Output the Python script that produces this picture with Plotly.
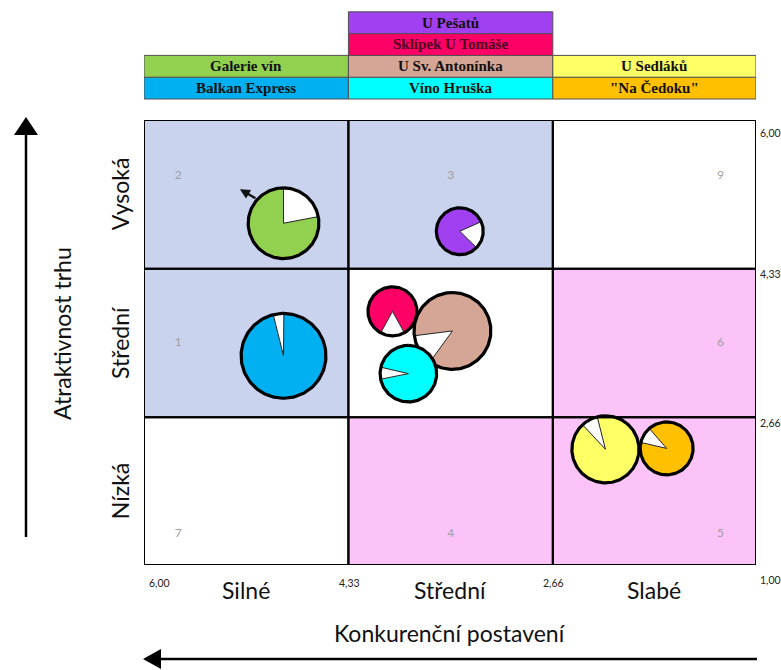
import numpy as np
import plotly.graph_objects as go

# ---------------- data ----------------
names = ["Galerie vín", "U Pešatů", "Balkan Express", "Sklípek U Tomáše",
         "U Sv. Antonínka", "Víno Hruška", "U Sedláků", "\"Na Čedoku\""]
comp_position = [4.86, 3.42, 4.86, 3.97, 3.48, 3.84, 2.23, 1.73]      # x: Konkurenční postavení
market_attract = [4.84, 4.75, 3.35, 3.85, 3.63, 3.15, 2.30, 2.31]     # y: Atraktivnost trhu
market_size = [50, 22, 72, 24, 59, 32, 45, 28]                        # bubble size
market_share = [0.78, 0.81, 0.96, 0.84, 0.87, 0.93, 0.92, 0.90]       # coloured share of pie

x_bounds = [6.00, 4.33, 2.66, 1.00]
y_bounds = [1.00, 2.66, 4.33, 6.00]
x_tick_text = ["6,00", "4,33", "2,66"]          # bottom labels (the corner 1,00 is shared with y)
y_tick_text = ["1,00", "2,66", "4,33", "6,00"]  # right-hand labels
x_categories = ["Silné", "Střední", "Slabé"]
y_categories = ["Nízká", "Střední", "Vysoká"]
cell_numbers = [[7, 4, 5], [1, 8, 6], [2, 3, 9]]   # rows bottom->top, cols left->right

# legend table: columns (left->right), each listed bottom->top
legend_columns = [
    ["Balkan Express", "Galerie vín"],
    ["Víno Hruška", "U Sv. Antonínka", "Sklípek U Tomáše", "U Pešatů"],
    ["\"Na Čedoku\"", "U Sedláků"],
]

# ---------------- styles ----------------
colors = ["#92D050", "#A040F0", "#00B0F0", "#FF0066", "#D5A595", "#00FFFF", "#FFFF66", "#FFC000"]
slice_start = [0, 66, 346, 151, 216, 258, 317, 283]   # rotation of white slice (deg, clockwise from top)
color_of = dict(zip(names, colors))
BLUE_CELL, PINK_CELL, WHITE_CELL = "#C9D3EE", "#FBC3F8", "#FFFFFF"
cell_colors = [[WHITE_CELL, PINK_CELL, PINK_CELL],
               [BLUE_CELL, WHITE_CELL, PINK_CELL],
               [BLUE_CELL, BLUE_CELL, WHITE_CELL]]
SANS = "Lato, 'Open Sans', sans-serif"
SERIF = "'Liberation Serif', 'DejaVu Serif', serif"
BIG = 23

W, H = 781, 670
ML, MR, MT, MB = 144, 25, 120, 105
PW, PH = W - ML - MR, H - MT - MB
ppu_x = PW / (x_bounds[0] - x_bounds[-1])
ppu_y = PH / (y_bounds[-1] - y_bounds[0])


def py2paper(py):
    return (H - MB - py) / PH


def px2paper(px):
    return (px - ML) / PW


fig = go.Figure()

# cell numbers (drawn first, so pies cover them)
num_dx = [0.28, None, 0.29]
num_dy = [0.35, None, 0.63]
nx, ny, nt = [], [], []
for r in range(3):
    for c in range(3):
        lo_x, hi_x = x_bounds[c], x_bounds[c + 1]
        lo_y, hi_y = y_bounds[r], y_bounds[r + 1]
        xx = (lo_x + hi_x) / 2 if c == 1 else (lo_x - num_dx[0] if c == 0 else hi_x + num_dx[2])
        yy = (lo_y + hi_y) / 2 if r == 1 else (lo_y + num_dy[0] if r == 0 else hi_y - num_dy[2])
        nx.append(xx); ny.append(yy); nt.append(str(cell_numbers[r][c]))
fig.add_trace(go.Scatter(x=nx, y=ny, text=nt, mode="text",
                         textfont=dict(family=SANS, size=12, color="#A0A0A0"),
                         hoverinfo="skip", showlegend=False))


def arc_points(cx, cy, r_px, a0, a1, n=90):
    th = np.radians(np.linspace(a0, a1, n))
    return cx - r_px * np.sin(th) / ppu_x, cy + r_px * np.cos(th) / ppu_y


for i, name in enumerate(names):
    cx, cy = comp_position[i], market_attract[i]
    r_px = 10 * np.sqrt(market_size[i]) / 2
    white_deg = (1 - market_share[i]) * 360
    ws = slice_start[i]
    # coloured slice
    ax_, ay_ = arc_points(cx, cy, r_px, ws + white_deg, ws + 360)
    fig.add_trace(go.Scatter(x=np.r_[cx, ax_, cx], y=np.r_[cy, ay_, cy], mode="lines",
                             fill="toself", fillcolor=colors[i], line=dict(width=0),
                             name=name, hoverinfo="name", showlegend=False))
    # white slice
    bx, by = arc_points(cx, cy, r_px, ws, ws + white_deg, 40)
    fig.add_trace(go.Scatter(x=np.r_[cx, bx, cx], y=np.r_[cy, by, cy], mode="lines",
                             fill="toself", fillcolor="#FFFFFF", line=dict(width=1, color="#222"),
                             hoverinfo="skip", showlegend=False))
    # outline
    ox, oy = arc_points(cx, cy, r_px, 0, 360, 180)
    fig.add_trace(go.Scatter(x=ox, y=oy, mode="lines", line=dict(width=3.2, color="#000"),
                             hoverinfo="skip", showlegend=False))

shapes = []
# cell backgrounds and borders
for r in range(3):
    for c in range(3):
        shapes.append(dict(type="rect", xref="x", yref="y", layer="below",
                           x0=x_bounds[c], x1=x_bounds[c + 1], y0=y_bounds[r], y1=y_bounds[r + 1],
                           fillcolor=cell_colors[r][c], line=dict(width=0)))
for r in range(3):
    for c in range(3):
        shapes.append(dict(type="rect", xref="x", yref="y", layer="above",
                           x0=x_bounds[c], x1=x_bounds[c + 1], y0=y_bounds[r], y1=y_bounds[r + 1],
                           fillcolor="rgba(0,0,0,0)", line=dict(width=2, color="#000")))

annotations = []
# legend table
ROW_BOTTOM_PX, ROW_H_PX = 99, 21.8
for c, col in enumerate(legend_columns):
    for k, nm in enumerate(col):
        y0 = py2paper(ROW_BOTTOM_PX - ROW_H_PX * k)
        y1 = py2paper(ROW_BOTTOM_PX - ROW_H_PX * (k + 1))
        shapes.append(dict(type="rect", xref="x", yref="paper", x0=x_bounds[c], x1=x_bounds[c + 1],
                           y0=y0, y1=y1, fillcolor=color_of[nm], line=dict(width=1, color="#505050")))
        tcol = "#4a0022" if nm == "Sklípek U Tomáše" else "#111111"
        annotations.append(dict(xref="x", yref="paper", x=(x_bounds[c] + x_bounds[c + 1]) / 2,
                                y=(y0 + y1) / 2, text="<b>%s</b>" % nm, showarrow=False,
                                xanchor="center", yanchor="middle",
                                font=dict(family=SERIF, size=15, color=tcol)))

# x tick labels (bottom)
x_anchor = ["left", "center", "center"]
x_shift = [3, 1, 1]
for i, t in enumerate(x_tick_text):
    annotations.append(dict(xref="x", yref="paper", x=x_bounds[i], y=py2paper(575), text=t,
                            showarrow=False, xanchor=x_anchor[i], yanchor="top", xshift=x_shift[i],
                            font=dict(family=SANS, size=10.5, color="#222")))
# y tick labels (right)
y_shift = [-7, 2, 3, -5]
for i, t in enumerate(y_tick_text):
    annotations.append(dict(xref="paper", yref="y", x=1, y=y_bounds[i], text=t, showarrow=False,
                            xanchor="left", yanchor="top", xshift=2, yshift=y_shift[i],
                            font=dict(family=SANS, size=10.5, color="#222")))
# category labels
for c in range(3):
    annotations.append(dict(xref="x", yref="paper", x=(x_bounds[c] + x_bounds[c + 1]) / 2,
                            y=py2paper(590), text=x_categories[c], showarrow=False,
                            xanchor="center", yanchor="middle",
                            font=dict(family=SANS, size=BIG, color="#111")))
for r in range(3):
    annotations.append(dict(xref="paper", yref="y", x=px2paper(120), y=(y_bounds[r] + y_bounds[r + 1]) / 2,
                            text=y_categories[r], showarrow=False, textangle=-90,
                            xanchor="center", yanchor="middle",
                            font=dict(family=SANS, size=BIG, color="#111")))
# axis titles
annotations.append(dict(xref="paper", yref="paper", x=px2paper(450), y=py2paper(633),
                        text="Konkurenční postavení", showarrow=False,
                        xanchor="center", yanchor="middle",
                        font=dict(family=SANS, size=BIG, color="#111")))
annotations.append(dict(xref="paper", yref="paper", x=px2paper(62), y=py2paper(334),
                        text="Atraktivnost trhu", showarrow=False, textangle=-90,
                        xanchor="center", yanchor="middle",
                        font=dict(family=SANS, size=BIG, color="#111")))

# movement arrow on Galerie vín
g = 0
g_r = 10 * np.sqrt(market_size[g]) / 2
ang = np.radians(308)
tip_x = comp_position[g] - (g_r + 20) * np.sin(ang) / ppu_x
tip_y = market_attract[g] + (g_r + 20) * np.cos(ang) / ppu_y
annotations.append(dict(xref="x", yref="y", x=tip_x, y=tip_y, ax=17, ay=10, showarrow=True,
                        arrowhead=2, arrowsize=0.8, arrowwidth=2.5, arrowcolor="#111", text=""))

# big axis arrows (paper space)
shapes.append(dict(type="line", xref="paper", yref="paper", x0=px2paper(26), x1=px2paper(26),
                   y0=py2paper(537), y1=py2paper(130), line=dict(width=2.5, color="#000")))
shapes.append(dict(type="path", xref="paper", yref="paper", fillcolor="#000", line=dict(width=0),
                   path="M %f %f L %f %f L %f %f Z" % (px2paper(14), py2paper(135), px2paper(38),
                                                        py2paper(135), px2paper(26), py2paper(117))))
shapes.append(dict(type="line", xref="paper", yref="paper", x0=px2paper(757), x1=px2paper(155),
                   y0=py2paper(659), y1=py2paper(659), line=dict(width=2.5, color="#000")))
shapes.append(dict(type="path", xref="paper", yref="paper", fillcolor="#000", line=dict(width=0),
                   path="M %f %f L %f %f L %f %f Z" % (px2paper(161), py2paper(649), px2paper(161),
                                                        py2paper(669), px2paper(143), py2paper(659))))

fig.update_layout(
    width=W, height=H, margin=dict(l=ML, r=MR, t=MT, b=MB),
    paper_bgcolor="#FFFFFF", plot_bgcolor="#FFFFFF",
    xaxis=dict(range=[x_bounds[0], x_bounds[-1]], showgrid=False, zeroline=False,
               showticklabels=False, ticks="", showline=False, fixedrange=True),
    yaxis=dict(range=[y_bounds[0], y_bounds[-1]], showgrid=False, zeroline=False,
               showticklabels=False, ticks="", showline=False, fixedrange=True),
    shapes=shapes, annotations=annotations, showlegend=False,
)

fig.write_html("out.html")
